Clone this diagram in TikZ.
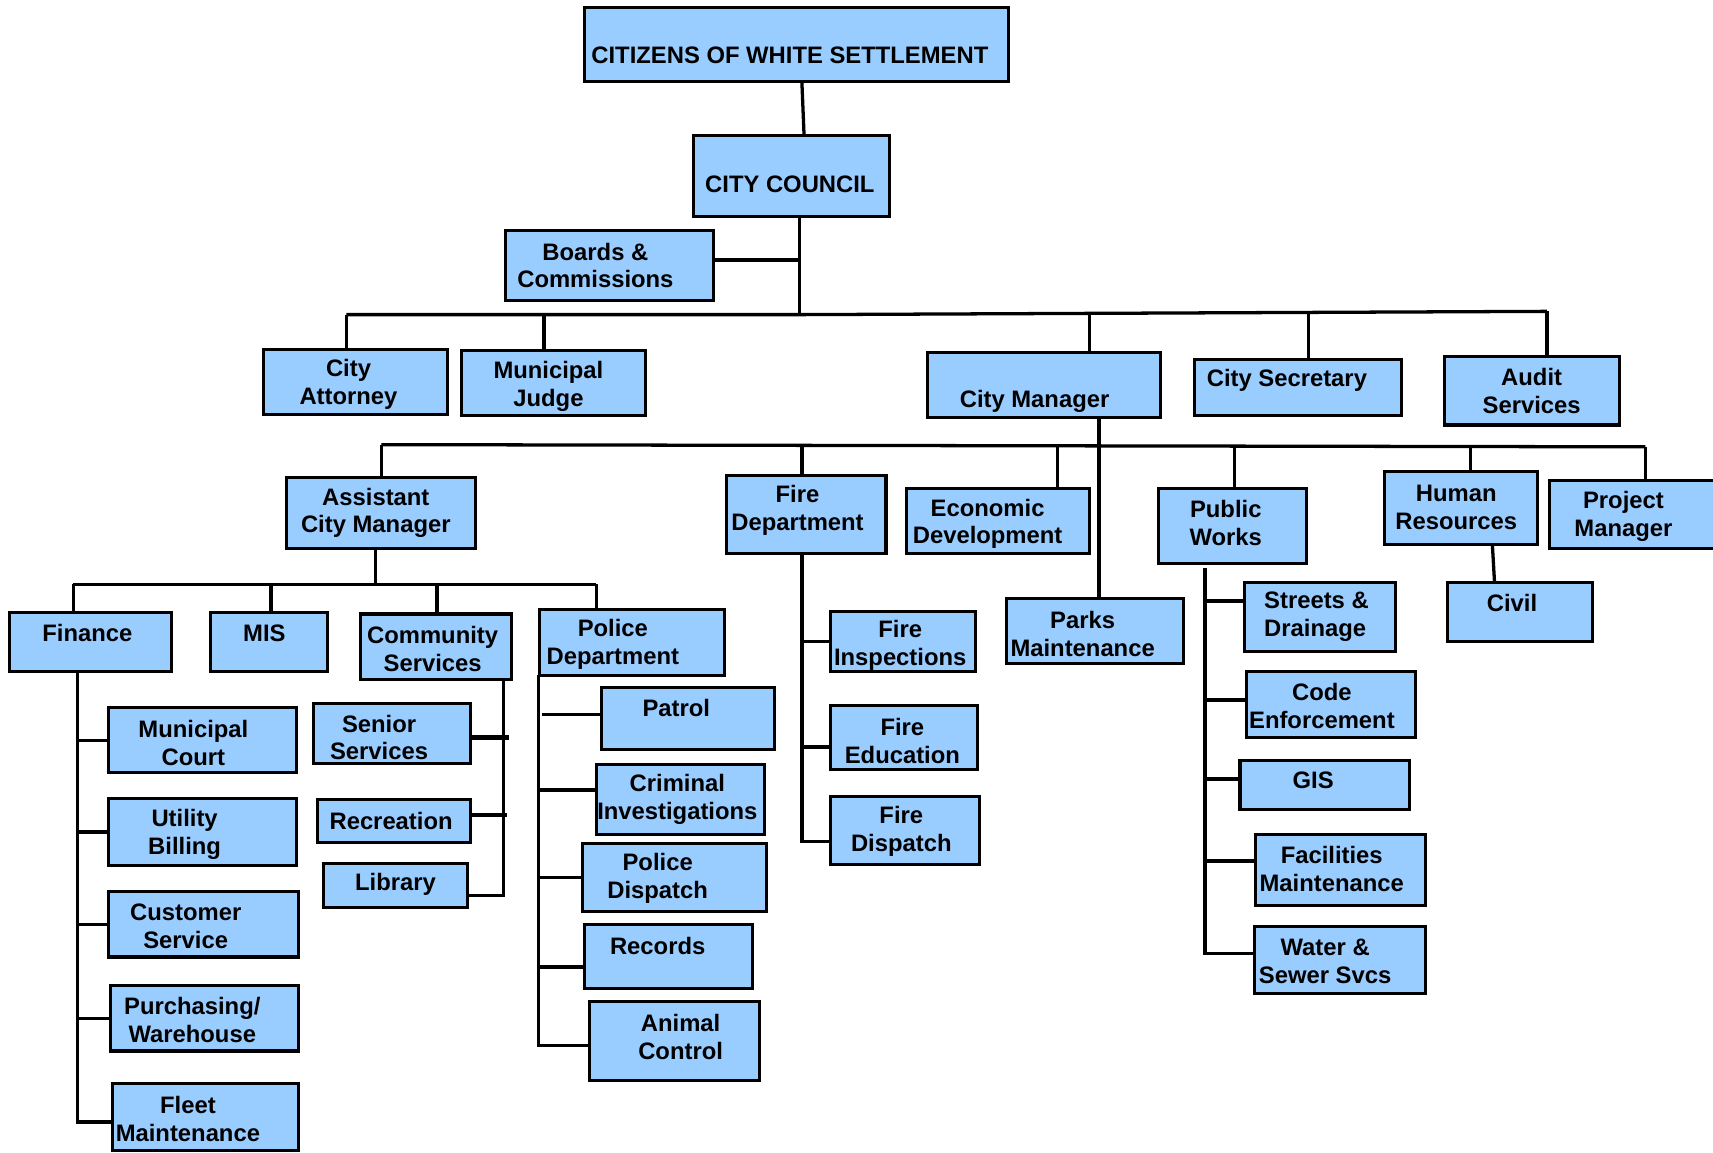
\documentclass[tikz,border=0pt]{standalone}
\usepackage{fontspec}
\setmainfont{Liberation Sans}
\definecolor{boxblue}{HTML}{99CCFF}
\newcommand\orgbox[5]{\node[orgnode, minimum width={(#4-#2)*1pt}, minimum height={(#5-#3)*1pt}] (#1) at ({(#2+#4)/2},{(#3+#5)/2}) {};}
\tikzset{
  orgnode/.style={rectangle, draw=black, fill=boxblue, line width=2.8pt, inner sep=0pt, outer sep=0pt},
  lbl/.style={font=\bfseries\fontsize{21.8}{25.5}\selectfont, align=center, inner sep=0pt, yshift=-1.5pt},
  conn/.style={line width=3pt, black},
  thk/.style={line width=4pt, black}
}
\begin{document}
\begin{tikzpicture}[x=1pt,y=-1pt]
\useasboundingbox (0,0) rectangle (1568,1055);
\fill[white] (0,0) rectangle (1568,1055);
% boxes
\orgbox{cit}{535}{7}{923}{75}
\orgbox{cc}{635}{124}{814}{198}
\orgbox{bc}{463}{211}{653}{275}
\orgbox{ca}{241}{320}{410}{379}
\orgbox{mj}{422}{321}{591}{380}
\orgbox{cm}{849}{323}{1062}{382}
\orgbox{csec}{1093}{329}{1283}{380}
\orgbox{aud}{1322}{326}{1482}{389}
\orgbox{acm}{262}{437}{435}{502}
\orgbox{fd}{665}{435}{811}{507}
\orgbox{ed}{830}{447}{997}{507}
\orgbox{pw}{1060}{447}{1196}{516}
\orgbox{hr}{1267}{432}{1407}{498}
\orgbox{pm}{1418}{440}{1585}{502}
\orgbox{civ}{1325}{533}{1458}{587}
\orgbox{parks}{921}{548}{1083}{607}
\orgbox{fin}{9}{561}{157}{615}
\orgbox{mis}{193}{561}{300}{615}
\orgbox{comm}{330}{562}{468}{622}
\orgbox{pd}{494}{558}{663}{618}
\orgbox{mc}{99}{648}{271}{707}
\orgbox{ub}{99}{731}{271}{792}
\orgbox{cust}{99}{816}{273}{876}
\orgbox{pur}{101}{902}{273}{962}
\orgbox{fleet}{103}{992}{273}{1053}
\orgbox{ss}{287}{644}{431}{699}
\orgbox{rec}{291}{732}{431}{771}
\orgbox{lib}{296}{790}{428}{831}
\orgbox{pat}{551}{629}{709}{686}
\orgbox{ci}{546}{700}{700}{764}
\orgbox{pdis}{533}{772}{702}{834}
\orgbox{recs}{535}{846}{689}{905}
\orgbox{ac}{540}{917}{695}{989}
\orgbox{fi}{760}{560}{893}{615}
\orgbox{fe}{760}{646}{895}{704}
\orgbox{fdis}{760}{729}{897}{791}
\orgbox{sd}{1139}{533}{1277}{596}
\orgbox{ce}{1141}{615}{1296}{675}
\orgbox{gis}{1135}{696}{1290}{741}
\orgbox{fm}{1149}{764}{1305}{829}
\orgbox{ws}{1148}{848}{1305}{909}
% labels
\node[lbl] (cit-t) at (723,49) {CITIZENS OF WHITE SETTLEMENT};
\node[lbl] (cc-t) at (723,167) {CITY COUNCIL};
\node[lbl] (bc-t) at (545,241.5) {Boards \&\\Commissions};
\node[lbl] (ca-t) at (319,350.5) {City\\Attorney};
\node[lbl] (mj-t) at (502,352.5) {Municipal\\Judge};
\node[lbl] (cm-t) at (947,366) {City Manager};
\node[lbl] (csec-t) at (1178,347) {City Secretary};
\node[lbl] (aud-t) at (1402,356.5) {Audit\\Services};
\node[lbl] (acm-t) at (344,468) {Assistant\\City Manager};
\node[lbl] (fd-t) at (730,466) {Fire\\Department};
\node[lbl] (ed-t) at (904,478) {Economic\\Development};
\node[lbl] (pw-t) at (1122,477.5) {Public\\Works};
\node[lbl] (hr-t) at (1333,463) {Human\\Resources};
\node[lbl] (pm-t) at (1486,471) {Project\\Manager};
\node[lbl] (civ-t) at (1384,550) {Civil};
\node[lbl] (parks-t) at (991,578.5) {Parks\\Maintenance};
\node[lbl] (fin-t) at (80,578) {Finance};
\node[lbl] (mis-t) at (242,578) {MIS};
\node[lbl] (comm-t) at (396,592.5) {Community\\Services};
\node[lbl] (pd-t) at (561,588.5) {Police\\Department};
\node[lbl] (mc-t) at (177,678.5) {Municipal\\Court};
\node[lbl] (ub-t) at (169,762) {Utility\\Billing};
\node[lbl] (cust-t) at (170,846.5) {Customer\\Service};
\node[lbl] (pur-t) at (176,932.5) {Purchasing/\\Warehouse};
\node[lbl] (fleet-t) at (172,1022.5) {Fleet\\Maintenance};
\node[lbl] (ss-t) at (347,673.5) {Senior\\Services};
\node[lbl] (rec-t) at (358,750) {Recreation};
\node[lbl] (lib-t) at (362,808) {Library};
\node[lbl] (pat-t) at (619,647) {Patrol};
\node[lbl] (ci-t) at (620,730.5) {Criminal\\Investigations};
\node[lbl] (pdis-t) at (602,802.5) {Police\\Dispatch};
\node[lbl] (recs-t) at (602,864) {Records};
\node[lbl] (ac-t) at (623,947.5) {Animal\\Control};
\node[lbl] (fi-t) at (824,589.5) {Fire\\Inspections};
\node[lbl] (fe-t) at (826,676.5) {Fire\\Education};
\node[lbl] (fdis-t) at (825,759.5) {Fire\\Dispatch};
\node[lbl, align=left, anchor=west] (sd-t) at (1157,563) {Streets \&\\Drainage};
\node[lbl] (ce-t) at (1210,644.5) {Code\\Enforcement};
\node[lbl] (gis-t) at (1202,713) {GIS};
\node[lbl] (fm-t) at (1219,794) {Facilities\\Maintenance};
\node[lbl] (ws-t) at (1213,878.5) {Water \&\\Sewer Svcs};
% top connectors
\draw[conn] ([xshift=5pt]cit.south) -- ([xshift=11.5pt]cc.north);
\coordinate (ccT) at (732,288);
\draw[conn] (ccT |- cc.south) -- (ccT);
\draw[conn] ([yshift=5pt]bc.east) -- ++(80,0);
% bus A
\coordinate (aL) at (317,288);
\coordinate (a1) at (498,288);
\coordinate (a2) at (997,288);
\coordinate (a3) at (1198,287);
\coordinate (aR) at (1416,285);
\draw[conn] (aL) -- (ccT) -- (aR);
\draw[conn] (aL) -- (aL |- ca.north);
\draw[conn] (a1) -- (a1 |- mj.north);
\draw[conn] (a2) -- (a2 |- cm.north);
\draw[conn] (a3) -- (a3 |- csec.north);
\draw[conn] (aR) -- (aR |- aud.north);
% bus B
\coordinate (bL) at (349,407);
\coordinate (b1) at (734,407);
\coordinate (b2) at (968,407);
\coordinate (b3) at (1130,408);
\coordinate (b4) at (1346,409);
\coordinate (bR) at (1506,409);
\coordinate (cmT) at (1006,407);
\draw[conn] (bL) -- (bR);
\draw[conn] (cmT |- cm.south) -- (cmT |- parks.north);
\draw[conn] (bL) -- (bL |- acm.north);
\draw[conn] (b1) -- (b1 |- fd.north);
\draw[conn] (b2) -- (b2 |- ed.north);
\draw[conn] (b3) -- (b3 |- pw.north);
\draw[conn] (b4) -- (b4 |- hr.north);
\draw[conn] (bR) -- (bR |- pm.north);
\draw[conn] ([xshift=29pt]hr.south) -- ([xshift=-23.5pt]civ.north);
% bus C
\coordinate (cL) at (67,535);
\coordinate (c0) at (344,535);
\coordinate (c1) at (248,535);
\coordinate (c2) at (400,535);
\coordinate (cR) at (546,535);
\draw[conn] (cL) -- (cR);
\draw[conn] (c0 |- acm.south) -- (c0);
\draw[conn] (cL) -- (cL |- fin.north);
\draw[conn] (c1) -- (c1 |- mis.north);
\draw[conn] (c2) -- (c2 |- comm.north);
\draw[conn] (cR) -- (cR |- pd.north);
% finance
\coordinate (fV) at (71,615);
\draw[conn] (fV |- fin.south) |- ([yshift=-4.5pt]fleet.west);
\draw[conn] (mc.west) -- (mc.west -| fV);
\draw[conn] (ub.west) -- (ub.west -| fV);
\draw[conn] (cust.west) -- (cust.west -| fV);
\draw[conn] (pur.west) -- (pur.west -| fV);
% community services
\coordinate (sV) at (461,622);
\draw[conn] (sV |- comm.south) |- ([yshift=-9.5pt]lib.east);
\draw[thk] ([yshift=-3.5pt]ss.east) -- ++(35,0);
\draw[thk] ([yshift=5.5pt]rec.east) -- ++(33,0);
% police
\coordinate (pV) at (493,618);
\draw[conn] (pV |- pd.south) |- ([yshift=-4pt]ac.west);
\draw[conn] ([yshift=3.5pt]pat.west) -- ++(-55,0);
\draw[thk] ([yshift=9pt]ci.west) -- ++(-53,0);
\draw[conn] (pdis.west) -- (pdis.west -| pV);
\draw[thk] ([yshift=-9.5pt]recs.west) -- ++(-42,0);
% fire
\coordinate (fdV) at (734,507);
\draw[conn] (fdV |- fd.south) |- ([yshift=-10pt]fdis.west);
\draw[conn] (fi.west) -- (fi.west -| fdV);
\draw[thk] ([yshift=-9pt]fe.west) -- ++(-26,0);
% public works
\coordinate (wV) at (1103,520);
\draw[conn] (wV) |- ([yshift=5.5pt]ws.west);
\draw[conn] ([yshift=14.5pt]sd.west) -- ++(-35,0);
\draw[thk] ([yshift=4pt]ce.west) -- ++(-38,0);
\draw[conn] ([yshift=5.5pt]gis.west) -- ++(-32,0);
\draw[thk] ([yshift=8.5pt]fm.west) -- ++(-46,0);
\end{tikzpicture}
\end{document}
